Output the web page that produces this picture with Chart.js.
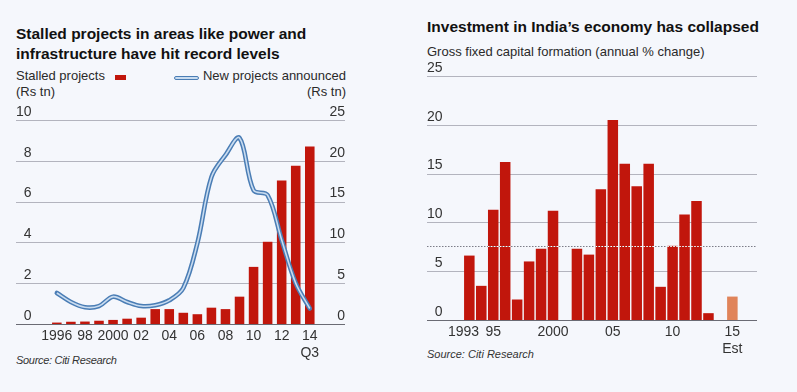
<!DOCTYPE html>
<html>
<head>
<meta charset="utf-8">
<script src="https://cdn.jsdelivr.net/npm/chart.js@4"></script>
<style>
  body { margin: 0; background: #f5f7fc; font-family: 'Liberation Sans', Arial, sans-serif; color: #1c1c1c; }
  .t { position: absolute; white-space: nowrap; }
  .title { font-weight: bold; font-size: 15.5px; line-height: 20px; color: #111; }
  .lbl { font-size: 13px; line-height: 16px; color: #2a2a2a; }
  .src { font-style: italic; font-size: 11px; line-height: 11px; color: #333; }
  .rule { position: absolute; height: 1px; }
  canvas { position: absolute; top: 0; }
</style>
</head>
<body>
<div class="t title" style="left:16px; top:24px;">Stalled projects in areas like power and<br>infrastructure have hit record levels</div>
<div class="t lbl" style="left:16px; top:68px;">Stalled projects<br>(Rs tn)</div>
<div class="t" style="left:115px; top:75px; width:11px; height:5px; background:#c1160c;"></div>
<div class="t" style="left:174px; top:75.5px; width:25px; height:4.5px; background:#c9dcf0; border:1.3px solid #4a7db5; border-radius:3px; box-sizing:border-box;"></div>
<div class="t lbl" style="left:196px; top:68px; width:150px; text-align:right;">New projects announced<br>(Rs tn)</div>
<div class="t src" style="left:16px; top:355px; letter-spacing:-0.3px;">Source: Citi Research</div>

<div class="t title" style="left:427px; top:16.5px;">Investment in India’s economy has collapsed</div>
<div class="t lbl" style="left:427px; top:43.5px;">Gross fixed capital formation (annual % change)</div>
<div class="t src" style="left:427px; top:349px;">Source: Citi Research</div>

<div id="rules"></div>
<canvas id="stalledChart" width="400" height="392" style="left:0;"></canvas>
<canvas id="gfcfChart" width="397" height="392" style="left:400px;"></canvas>
<script>
// left chart: stalled projects (bars, Rs tn) and new projects announced (line, Rs tn)
const stalledYears = [1996, 1997, 1998, 1999, 2000, 2001, 2002, 2003, 2004, 2005, 2006, 2007, 2008, 2009, 2010, 2011, 2012, 2013, 2014];
const stalledValues = [0.07, 0.11, 0.12, 0.16, 0.2, 0.26, 0.31, 0.73, 0.73, 0.55, 0.48, 0.8, 0.73, 1.34, 2.8, 4.03, 7.03, 7.76, 8.7];
const newProjectValues = [3.8, 2.7, 2.05, 2.2, 3.35, 2.7, 2.2, 2.3, 2.9, 4.4, 9.9, 18.0, 20.7, 22.8, 16.4, 15.8, 10.3, 5.0, 1.9];
const stalledTickLabels = ['1996', '', '98', '', '2000', '', '02', '', '04', '', '06', '', '08', '', '10', '', '12', '', ['14', 'Q3']];
const stalledAxisTicks = [0, 2, 4, 6, 8, 10];
const newProjectAxisTicks = [0, 5, 10, 15, 20, 25];

// right chart: gross fixed capital formation, annual % change
const gfcfYears = [1993, 1994, 1995, 1996, 1997, 1998, 1999, 2000, 2001, 2002, 2003, 2004, 2005, 2006, 2007, 2008, 2009, 2010, 2011, 2012, 2013, 2014, 2015];
const gfcfValues = [6.6, 3.5, 11.3, 16.2, 2.1, 6.0, 7.3, 11.2, null, 7.3, 6.7, 13.4, 20.5, 16.0, 13.7, 16.0, 3.4, 7.6, 10.8, 12.2, 0.7, null, 2.4];
const gfcfTickLabels = ['1993   ', '', '95', '', '', '', '', '2000', '', '', '', '', '05', '', '', '', '', '10', '', '', '', '', ['15', 'Est']];
const gfcfAxisTicks = [0, 5, 10, 15, 20, 25];
const gfcfEstimateYears = [2015];
const gfcfAverage = 7.55;

const RED = '#c1160c';
const EST = '#e0845a';
const BLUE = '#4a7db5';
const BLUE_INNER = '#c9dcf0';
const GRID = '#b3b4be';
const ZERO = '#6a6b74';
const tickFont = { family: "'Liberation Sans', Arial, sans-serif", size: 14, lineHeight: 1.2 };

function yAxis(position, ticks) {
    return {
        position: position,
        min: ticks[0],
        max: ticks[ticks.length - 1],
        afterBuildTicks: axis => { axis.ticks = ticks.map(v => ({ value: v })); },
        afterFit: axis => { axis.width = 0; },
        border: { display: false },
        grid: { display: false, drawTicks: false },
        ticks: {
            mirror: true,
            padding: 0,
            crossAlign: position === 'left' ? 'far' : 'near',
            labelOffset: -8,
            color: '#333',
            font: tickFont,
        }
    };
}

function xAxis(min, max, years, labels) {
    return {
        type: 'linear',
        min: min,
        max: max,
        afterBuildTicks: axis => { axis.ticks = years.map(v => ({ value: v })); },
        afterFit: axis => { axis.height = 40; },
        border: { display: false },
        grid: { display: false, drawTicks: false },
        ticks: {
            autoSkip: false,
            maxRotation: 0,
            padding: 4,
            color: '#333',
            font: tickFont,
            callback: (v, i) => labels[i],
        }
    };
}

// horizontal rules under the canvas, placed at the pixels of the 'y' scale ticks
function addRules(chart) {
    const layer = document.getElementById('rules');
    const scale = chart.scales.y;
    const area = chart.chartArea;
    const left = chart.canvas.offsetLeft;
    scale.ticks.forEach(t => {
        const rule = document.createElement('div');
        rule.className = 'rule';
        rule.style.left = (left + area.left) + 'px';
        rule.style.top = Math.round(scale.getPixelForValue(t.value)) + 'px';
        rule.style.width = (area.right - area.left) + 'px';
        rule.style.background = t.value === 0 ? ZERO : GRID;
        layer.appendChild(rule);
    });
}

const basePlugins = { legend: { display: false }, tooltip: { enabled: false } };

const stalledChart = new Chart(document.getElementById('stalledChart'), {
    data: {
        datasets: [
            {
                type: 'line',
                data: stalledYears.map((y, i) => ({ x: y, y: newProjectValues[i] })),
                yAxisID: 'yR',
                borderColor: BLUE_INNER,
                borderWidth: 1.6,
                pointRadius: 0,
                tension: 0.35,
                order: 0,
            },
            {
                type: 'line',
                data: stalledYears.map((y, i) => ({ x: y, y: newProjectValues[i] })),
                yAxisID: 'yR',
                borderColor: BLUE,
                borderWidth: 4.6,
                borderCapStyle: 'round',
                pointRadius: 0,
                tension: 0.35,
                order: 1,
            },
            {
                type: 'bar',
                data: stalledYears.map((y, i) => ({ x: y, y: stalledValues[i] })),
                yAxisID: 'y',
                backgroundColor: RED,
                barPercentage: 0.68,
                categoryPercentage: 1,
                order: 2,
            }
        ]
    },
    options: {
        responsive: false,
        animation: false,
        plugins: basePlugins,
        layout: { padding: { left: 16, right: 55, top: 120, bottom: 28 } },
        scales: {
            x: xAxis(1993.71, 2015.89, stalledYears, stalledTickLabels),
            y: yAxis('left', stalledAxisTicks),
            yR: yAxis('right', newProjectAxisTicks),
        }
    }
});

// dotted average: grey over the background, white across the bars
const averageLine = {
    id: 'averageLine',
    afterDatasetsDraw(chart) {
        const { ctx, chartArea, scales } = chart;
        const y = Math.round(scales.y.getPixelForValue(gfcfAverage)) + 0.5;
        ctx.save();
        ctx.lineWidth = 1;
        ctx.setLineDash([1.5, 1.5]);
        ctx.strokeStyle = '#7c7d88';
        ctx.beginPath();
        ctx.moveTo(chartArea.left, y);
        ctx.lineTo(chartArea.right, y);
        ctx.stroke();
        ctx.strokeStyle = '#ffffff';
        chart.getDatasetMeta(0).data.forEach(bar => {
            if (!isFinite(bar.y) || bar.y > y) return;
            ctx.beginPath();
            ctx.moveTo(bar.x - bar.width / 2, y);
            ctx.lineTo(bar.x + bar.width / 2, y);
            ctx.stroke();
        });
        ctx.restore();
    }
};

const gfcfChart = new Chart(document.getElementById('gfcfChart'), {
    type: 'bar',
    data: {
        datasets: [{
            data: gfcfYears.map((y, i) => ({ x: y, y: gfcfValues[i] })),
            backgroundColor: gfcfYears.map(y => gfcfEstimateYears.includes(y) ? EST : RED),
            barPercentage: 0.88,
            categoryPercentage: 1,
        }]
    },
    options: {
        responsive: false,
        animation: false,
        plugins: basePlugins,
        layout: { padding: { left: 27, right: 40, top: 76, bottom: 32 } },
        scales: {
            x: xAxis(1990.06, 2016.46, gfcfYears, gfcfTickLabels),
            y: yAxis('left', gfcfAxisTicks),
        }
    },
    plugins: [averageLine]
});

addRules(stalledChart);
addRules(gfcfChart);
</script>
</body>
</html>
